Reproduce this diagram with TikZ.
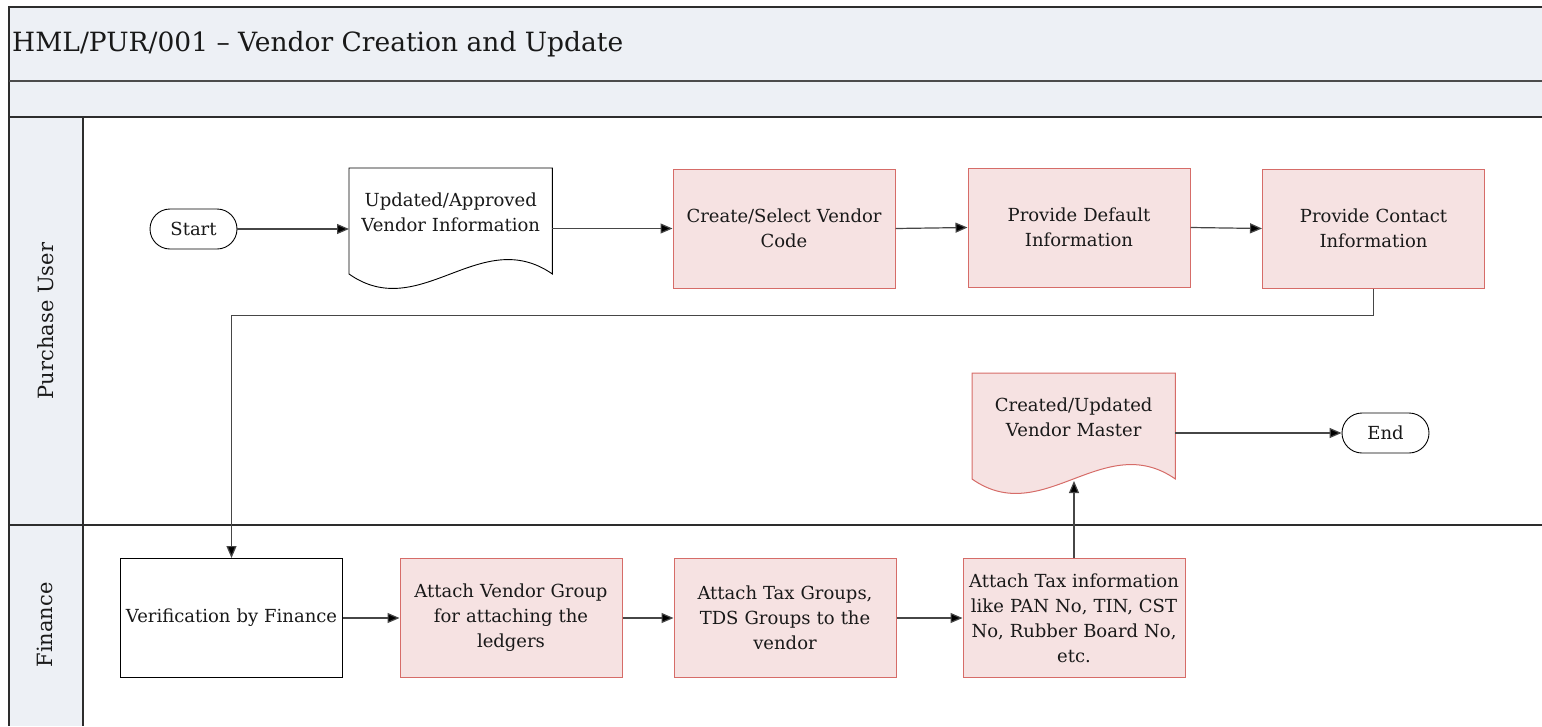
\documentclass[tikz,border=0pt]{standalone}
\usepackage{fontspec}
\setmainfont{DejaVu Serif}
\usetikzlibrary{arrows.meta,calc}
\pgfdeclarelayer{background}
\pgfsetlayers{background,main}
\definecolor{bandfill}{RGB}{237,240,245}
\definecolor{redfill}{RGB}{246,226,226}
\definecolor{redline}{RGB}{214,108,104}
\definecolor{frameline}{RGB}{45,45,45}
\definecolor{conn}{RGB}{70,70,70}
\definecolor{txt}{RGB}{25,25,25}
\begin{document}
\begin{tikzpicture}[x=1pt,y=-1pt,
  every node/.style={font=\fontsize{18}{25}\selectfont, text=txt, align=center, inner sep=0pt},
  redbox/.style={draw=redline, fill=redfill, line width=1pt, minimum width=222pt, minimum height=119pt, text width=218pt},
  plainbox/.style={draw=black, fill=white, line width=1pt, minimum width=222pt, minimum height=119pt, text width=218pt},
  term/.style={draw=black, fill=white, line width=0.9pt, rounded corners=20pt, minimum width=87pt, minimum height=40pt},
  docnode/.style={minimum width=203pt, minimum height=89pt, text width=200pt, anchor=north west},
  plaindoc/.style={draw=black, fill=white, line width=0.9pt},
  reddoc/.style={draw=redline, fill=redfill, line width=1pt},
  arr/.style={draw=conn, line width=1.2pt, -{Triangle[length=12pt,width=10pt,fill=black]}},
  lanetitle/.style={font=\fontsize{21}{25}\selectfont, rotate=90},
  frame/.style={draw=frameline, line width=1.5pt}
]
\useasboundingbox (0,0) rectangle (1542,726);

% bands and lanes
\fill[bandfill] (9,7) rectangle (1542,117);
\fill[bandfill] (9,117) rectangle (83,726);
\draw[frame] (1542,7) -- (9,7) -- (9,726);
\draw[frame, draw=black!70] (9,81) -- (1542,81);
\draw[frame] (9,117) -- (1542,117);
\draw[frame] (83,117) -- (83,726);
\draw[frame] (9,525) -- (1542,525);

\node[anchor=west, font=\fontsize{26.5}{30}\selectfont] (title) at (12,44) {HML/PUR/001 – Vendor Creation and Update};
\node[lanetitle] (lane1) at (46,321) {Purchase User};
\node[lanetitle] (lane2) at (45,625) {Finance};

% Purchase user lane
\node[term] (start) at (193.5,229) {Start};
\node[docnode] (d1) at (349,168) {Updated/Approved\\Vendor Information};
\node[redbox] (create) at (784,228.5) {Create/Select Vendor\\Code};
\node[redbox] (default) at (1079,227.5) {Provide Default\\Information};
\node[redbox] (contact) at (1373.5,228.5) {Provide Contact\\Information};
\node[docnode] (d2) at (972,373) {Created/Updated\\Vendor Master};
\node[term] (end) at (1385.5,433) {End};

% Finance lane
\node[plainbox] (verif) at (231.5,618) {Verification by Finance};
\node[redbox] (avg) at (511,618) {Attach Vendor Group\\for attaching the\\ledgers};
\node[redbox] (atg) at (785,618) {Attach Tax Groups,\\TDS Groups to the\\vendor};
\node[redbox] (ati) at (1074,618) {Attach Tax information\\like PAN No, TIN, CST\\No, Rubber Board No,\\etc.};

% document shapes
\begin{pgfonlayer}{background}
\draw[plaindoc] (d1.north west) -- (d1.north east) -- ($(d1.north east)+(0,106)$)
  .. controls ($(d1.north east)+(-72,56)$) and ($(d1.north west)+(71,156)$) .. ($(d1.north west)+(0,106)$) -- cycle;
\draw[reddoc] (d2.north west) -- (d2.north east) -- ($(d2.north east)+(0,106)$)
  .. controls ($(d2.north east)+(-72,56)$) and ($(d2.north west)+(71,156)$) .. ($(d2.north west)+(0,106)$) -- cycle;
\end{pgfonlayer}
\coordinate (d1r) at ($(d1.north east)+(0,60)$);
\coordinate (d2r) at ($(d2.north east)+(0,60)$);
\coordinate (d2b) at ($(d2.north west)+(102,108)$);

% connectors
\draw[arr] (start.east) -- (start.east -| d1.west);
\draw[arr] (create.west -| d1r) -- (create.west);
\draw[arr] (create.east) -- (default.west);
\draw[arr] (default.east) -- (contact.west);
\draw[arr] (contact.south) -- ++(0,27) -| (verif.north);
\draw[arr] (verif.east) -- (avg.west);
\draw[arr] (avg.east) -- (atg.west);
\draw[arr] (atg.east) -- (ati.west);
\draw[arr] (ati.north) -- (d2b);
\draw[arr] (d2r) -- (end.west);
\end{tikzpicture}
\end{document}
